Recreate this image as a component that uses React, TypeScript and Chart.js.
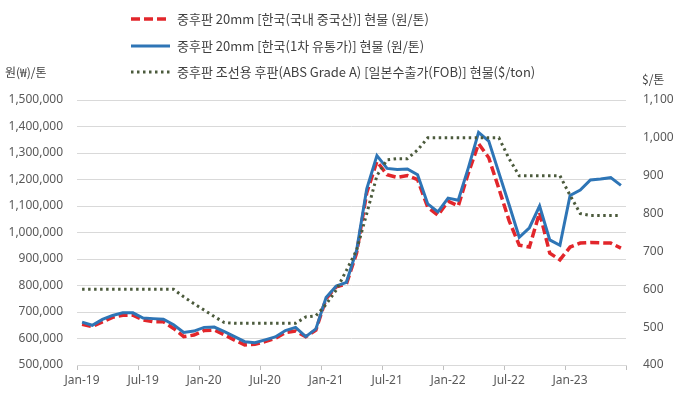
import { useEffect, useRef } from 'react';
import { Chart, registerables } from 'chart.js';

Chart.register(...registerables);

// ---------- DATA ----------
const months: string[] = [
  'Jan-19', 'Feb-19', 'Mar-19', 'Apr-19', 'May-19', 'Jun-19', 'Jul-19', 'Aug-19', 'Sep-19', 'Oct-19', 'Nov-19', 'Dec-19',
  'Jan-20', 'Feb-20', 'Mar-20', 'Apr-20', 'May-20', 'Jun-20', 'Jul-20', 'Aug-20', 'Sep-20', 'Oct-20', 'Nov-20', 'Dec-20',
  'Jan-21', 'Feb-21', 'Mar-21', 'Apr-21', 'May-21', 'Jun-21', 'Jul-21', 'Aug-21', 'Sep-21', 'Oct-21', 'Nov-21', 'Dec-21',
  'Jan-22', 'Feb-22', 'Mar-22', 'Apr-22', 'May-22', 'Jun-22', 'Jul-22', 'Aug-22', 'Sep-22', 'Oct-22', 'Nov-22', 'Dec-22',
  'Jan-23', 'Feb-23', 'Mar-23', 'Apr-23', 'May-23', 'Jun-23',
];

// 중후판 20mm [한국(국내 중국산)] 현물 (원/톤)
const koreaChinaMade: number[] = [
  654000, 645000, 663000, 680000, 688000, 688000, 670000, 663000, 663000, 638000, 607000, 613000,
  630000, 632000, 614000, 594000, 576000, 578000, 588000, 600000, 622000, 628000, 607000, 632000,
  750000, 795000, 806000, 922000, 1150000, 1268000, 1218000, 1208000, 1215000, 1200000, 1095000, 1065000,
  1118000, 1100000, 1225000, 1335000, 1282000, 1165000, 1045000, 952000, 945000, 1075000, 922000, 897000,
  945000, 960000, 962000, 961000, 960000, 941000,
];

// 중후판 20mm [한국(1차 유통가)] 현물 (원/톤)
const koreaPrimary: number[] = [
  662000, 650000, 672000, 687000, 697000, 697000, 677000, 675000, 673000, 652000, 623000, 628000,
  642000, 643000, 626000, 607000, 588000, 584000, 595000, 606000, 630000, 642000, 607000, 636000,
  755000, 798000, 812000, 932000, 1165000, 1290000, 1242000, 1238000, 1240000, 1218000, 1108000, 1078000,
  1130000, 1122000, 1245000, 1378000, 1345000, 1225000, 1105000, 982000, 1018000, 1100000, 972000, 952000,
  1140000, 1160000, 1198000, 1202000, 1207000, 1178000,
];

// 중후판 조선용 후판(ABS Grade A) [일본수출가(FOB)] 현물($/ton)
const japanExportFob: number[] = [
  600, 600, 600, 600, 600, 600, 600, 600, 600, 600, 580, 562,
  545, 528, 512, 510, 510, 510, 510, 510, 510, 510, 527, 530,
  560, 598, 650, 703, 800, 900, 942, 945, 945, 968, 1000, 1000,
  1000, 1000, 1000, 1000, 1000, 1000, 945, 900, 900, 900, 900, 900,
  848, 800, 795, 795, 795, 795,
];

const seriesNames: string[] = [
  '중후판 20mm [한국(국내 중국산)] 현물 (원/톤)',
  '중후판 20mm [한국(1차 유통가)] 현물 (원/톤)',
  '중후판 조선용 후판(ABS Grade A) [일본수출가(FOB)] 현물($/ton)',
];

const leftAxisTitle = '원(₩)/톤';
const rightAxisTitle = '$/톤';

// ---------- STYLE ----------
const RED = '#E2262B';
const BLUE = '#2E75B6';
const GREEN = '#4B5A3C';
const TICK_COLOR = '#595959';
const GRID_COLOR = '#D9D9D9';
const TICK_FONT = { family: '"Noto Sans", sans-serif', size: 12 };
const KR_FONT = '"Noto Sans CJK KR", "Noto Sans", sans-serif';

const fmt = (v: number) => Number(v).toLocaleString('en-US');

const overlayPlugin = {
  id: 'overlayText',
  afterDraw(chart: any) {
    const ctx: CanvasRenderingContext2D = chart.ctx;
    ctx.save();
    const rows = [19, 46, 72];
    const styles = [
      { color: RED, dash: [9, 4], width: 3.5 },
      { color: BLUE, dash: [], width: 3 },
      { color: GREEN, dash: [2.5, 3.5], width: 3 },
    ];
    styles.forEach((s, i) => {
      const y = rows[i];
      ctx.beginPath();
      ctx.setLineDash(s.dash);
      ctx.lineWidth = s.width;
      ctx.strokeStyle = s.color;
      ctx.lineCap = 'butt';
      ctx.moveTo(131, y);
      ctx.lineTo(170, y);
      ctx.stroke();
      ctx.setLineDash([]);
      ctx.fillStyle = '#404040';
      ctx.font = `13px ${KR_FONT}`;
      ctx.textBaseline = 'middle';
      ctx.textAlign = 'left';
      ctx.fillText(seriesNames[i], 177, y);
    });
    ctx.fillStyle = '#404040';
    ctx.font = `12px ${KR_FONT}`;
    ctx.textBaseline = 'middle';
    ctx.fillText(leftAxisTitle, 5, 72);
    ctx.fillText(rightAxisTitle, 642, 79);
    ctx.restore();
  },
};

export default function App() {
  const canvasRef = useRef<HTMLCanvasElement | null>(null);

  useEffect(() => {
    if (!canvasRef.current) return;
    const chart = new Chart(canvasRef.current, {
      type: 'line',
      data: {
        labels: months,
        datasets: [
          {
            label: seriesNames[0],
            data: koreaChinaMade,
            yAxisID: 'y',
            borderColor: RED,
            borderWidth: 3.5,
            borderDash: [9, 4],
            pointRadius: 0,
            tension: 0,
            order: 2,
          },
          {
            label: seriesNames[1],
            data: koreaPrimary,
            yAxisID: 'y',
            borderColor: BLUE,
            borderWidth: 3,
            pointRadius: 0,
            tension: 0,
            order: 1,
          },
          {
            label: seriesNames[2],
            data: japanExportFob,
            yAxisID: 'y1',
            borderColor: GREEN,
            borderWidth: 3,
            borderDash: [2.5, 3.5],
            pointRadius: 0,
            tension: 0,
            order: 0,
          },
        ],
      },
      options: {
        responsive: false,
        animation: false,
        devicePixelRatio: 1,
        layout: { padding: { top: 100, left: 0, right: 0, bottom: 0 } },
        plugins: {
          legend: { display: false },
          tooltip: { enabled: false },
        },
        scales: {
          x: {
            type: 'category',
            offset: true,
            grid: {
              offset: true,
              drawOnChartArea: false,
              drawTicks: true,
              tickLength: 5,
              color: (ctx: any) =>
                ctx.index === undefined || ctx.index % 6 === 0 ? '#BFBFBF' : 'rgba(0,0,0,0)',
            },
            border: { display: true, color: GRID_COLOR },
            ticks: {
              autoSkip: false,
              maxRotation: 0,
              minRotation: 0,
              padding: 3,
              color: TICK_COLOR,
              font: TICK_FONT,
              callback: (_v: any, i: number) => (i % 6 === 0 ? months[i] : ''),
            },
            afterFit: (scale: any) => {
              scale.height = 29;
            },
          },
          y: {
            position: 'left',
            min: 500000,
            max: 1500000,
            grid: { color: GRID_COLOR, drawTicks: false },
            border: { display: false },
            ticks: {
              stepSize: 100000,
              padding: 14,
              color: TICK_COLOR,
              font: TICK_FONT,
              callback: (v: any) => fmt(v),
            },
            afterFit: (scale: any) => {
              scale.width = 77;
            },
          },
          y1: {
            position: 'right',
            min: 400,
            max: 1100,
            grid: { drawOnChartArea: false, drawTicks: false },
            border: { display: false },
            ticks: {
              stepSize: 100,
              padding: 17,
              color: TICK_COLOR,
              font: TICK_FONT,
              callback: (v: any) => fmt(v),
            },
            afterFit: (scale: any) => {
              scale.width = 53;
            },
          },
        },
      },
      plugins: [overlayPlugin],
    } as any);
    return () => chart.destroy();
  }, []);

  return (
    <div style={{ position: 'fixed', left: 0, top: 0, width: 679, height: 394, background: '#fff' }}>
      <canvas ref={canvasRef} width={679} height={394} style={{ display: 'block' }} />
    </div>
  );
}
